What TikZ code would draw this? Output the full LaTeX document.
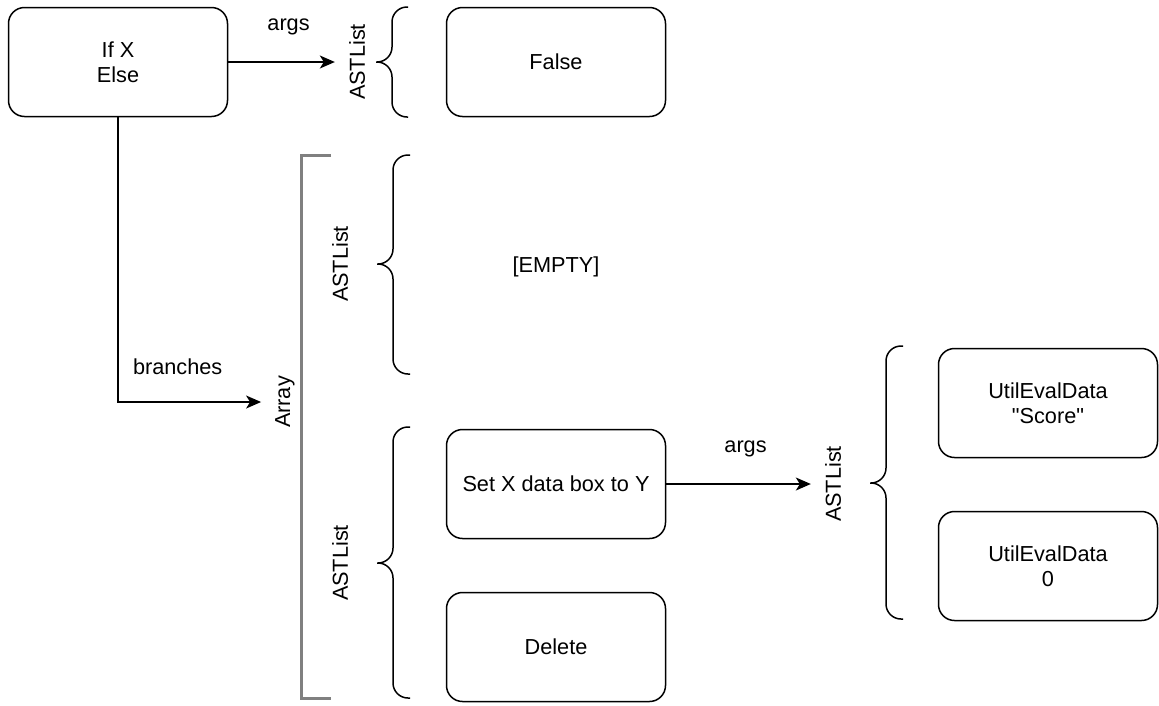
\documentclass[tikz,border=0pt]{standalone}
\usepackage{fontspec}
\setmainfont{Liberation Sans}[Ligatures=TeXOff]
\usetikzlibrary{arrows.meta}
\begin{document}
\begin{tikzpicture}[x=1pt,y=-1pt,font=\fontsize{21.7}{25}\selectfont,
		box/.style={draw,line width=1.5pt,rounded corners=16pt,minimum width=219pt,minimum height=109pt,align=center},
		lbl/.style={rotate=90,inner sep=0pt},
		link/.style={line width=1.5pt,-{Stealth[length=15pt,width=13pt,inset=4pt]},shorten >=14pt},
		curly/.style={line width=1.5pt,rounded corners=15pt},
		bracket/.style={draw=black!50,line width=3pt}]
		\useasboundingbox (0,0) rectangle (1159,705);
		\node [box] (ifelse) at (118,62) {If X\\Else};
		\node [box] (false) at (556,62) {False};
		\node [box] (setbox) at (556,484) {Set X data box to Y};
		\node [box] (del) at (556,647) {Delete};
		\node [box] (util1) at (1048,403) {UtilEvalData\\"Score"};
		\node [box] (util2) at (1048,566) {UtilEvalData\\0};
		\node (empty) at (556,267) {[EMPTY]};
		\node [lbl] (astA) at (357,62) {ASTList};
		\node [lbl] (astB) at (340,264) {ASTList};
		\node [lbl] (astC) at (340,563) {ASTList};
		\node [lbl] (astD) at (833,484) {ASTList};
		\node [lbl] (arr) at (285,402) {Array};
		\draw [link] (ifelse) -- node[above=26pt,inner sep=0pt] {args} (astA.north);
		\draw [link] (ifelse.south) |- node[pos=0.69,above=27pt,inner sep=0pt] {branches} (arr.north);
		\draw [link] (setbox) -- node[above=26pt,inner sep=0pt] {args} (astD.north);
		\draw [bracket] (331,155) -| (301,698) -- (331,698);
		\draw [curly] (408,7) -- (392,7) -- (392,62) -- (376,62) (408,117) -- (392,117) -- (392,62) -- (376,62);
		\draw [curly] (410,155) -- (393,155) -- (393,264) -- (377,264) (410,374) -- (393,374) -- (393,264) -- (377,264);
		\draw [curly] (410,427) -- (393,427) -- (393,563) -- (377,563) (410,698) -- (393,698) -- (393,563) -- (377,563);
		\draw [curly] (903,346) -- (886,346) -- (886,483) -- (870,483) (903,619) -- (886,619) -- (886,483) -- (870,483);
	\end{tikzpicture}
\end{document}
